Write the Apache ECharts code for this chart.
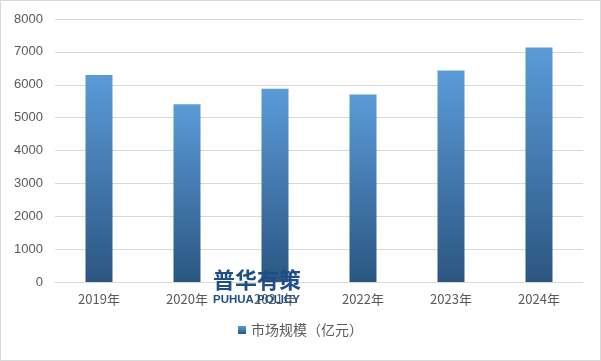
<!DOCTYPE html>
<html><head><meta charset="utf-8">
<script src="https://cdn.jsdelivr.net/npm/echarts@6/dist/echarts.min.js"></script>
<style>
html,body{margin:0;padding:0;background:#fff;}
#c{position:absolute;left:0;top:0;width:599px;height:359px;border:1px solid #d9d9d9;}
</style></head>
<body><div id="c"></div>
<script>
const categories = ['2019年','2020年','2021年','2022年','2023年','2024年'];
const marketSize = [6300, 5410, 5880, 5700, 6435, 7135];
const seriesName = '市场规模（亿元）';
const yTicks = {min: 0, max: 8000, interval: 1000};

const chart = echarts.init(document.getElementById('c'), null, {renderer: 'canvas'});
const grad = new echarts.graphic.LinearGradient(0, 0, 0, 1, [
  {offset: 0, color: '#5a9bd8'},
  {offset: 1, color: '#2b5681'}
]);
chart.setOption({
  animation: false,
  backgroundColor: '#fff',
  grid: {left: 54, right: 17, top: 18, bottom: 78},
  legend: {
    bottom: 18, left: 'center',
    itemWidth: 8, itemHeight: 8, itemGap: 4,
    icon: 'rect',
    textStyle: {color: '#595959', fontSize: 14, fontFamily: 'Noto Sans CJK SC'},
    data: [seriesName]
  },
  xAxis: {
    type: 'category', data: categories,
    axisLine: {lineStyle: {color: '#d9d9d9'}},
    axisTick: {show: false},
    axisLabel: {color: '#595959', fontSize: 13, margin: 11, fontFamily: 'Noto Sans CJK SC'}
  },
  yAxis: {
    type: 'value', min: yTicks.min, max: yTicks.max, interval: yTicks.interval,
    axisLine: {show: false}, axisTick: {show: false},
    splitLine: {lineStyle: {color: '#d9d9d9'}},
    axisLabel: {color: '#595959', fontSize: 13, margin: 12, fontFamily: 'Liberation Sans',
      formatter: v => String(v)}
  },
  series: [{
    name: seriesName, type: 'bar', data: marketSize,
    barWidth: 27,
    itemStyle: {color: grad}
  }],
  graphic: [
    {type: 'text', left: 212, top: 268, z: 100,
     style: {text: '普华有策', fill: '#1f4e86', font: 'bold 22px "Noto Sans CJK SC"'}},
    {type: 'text', left: 212, top: 293, z: 100,
     style: {text: 'PUHUA POLICY', fill: '#1f4e86', font: 'bold 11.5px "Liberation Sans"'}}
  ]
});
</script></body></html>
